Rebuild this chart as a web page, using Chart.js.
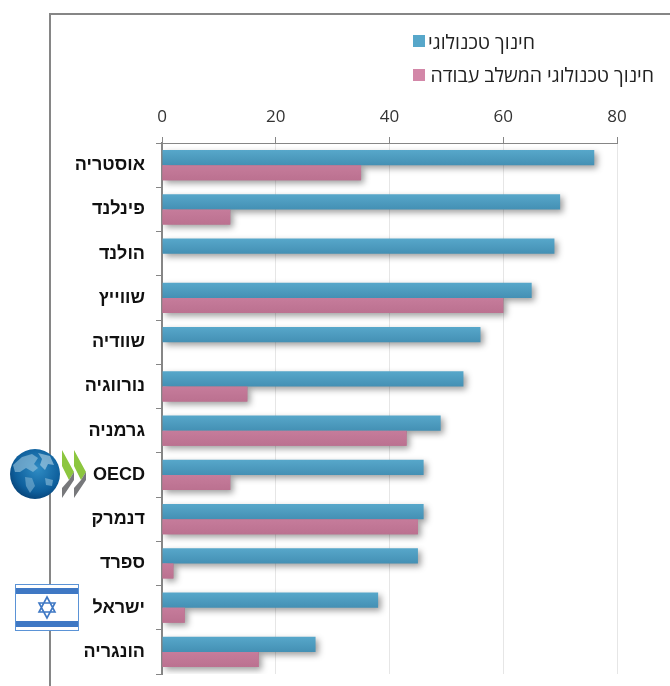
<!DOCTYPE html>
<html lang="he">
<head>
<meta charset="utf-8">
<title>חינוך טכנולוגי</title>
<script src="https://cdn.jsdelivr.net/npm/chart.js@4"></script>
<style>
  html, body { margin: 0; background: #fff; }
  #page { position: relative; width: 670px; height: 686px; overflow: hidden; }
  #frame { position: absolute; left: 49px; top: 13px; width: 640px; height: 700px; border: 2px solid #868686; box-sizing: border-box; }
  canvas { position: absolute; left: 0; top: 0; }
  .leg { position: absolute; font: 19.5px "Open Sans", sans-serif; color: #222; white-space: nowrap; direction: rtl; line-height: 24px; }
  .sw { position: absolute; width: 12px; height: 12px; }
  svg { position: absolute; }
</style>
</head>
<body>
<div id="page">
  <div id="frame"></div>
  <canvas id="chart" width="670" height="686"></canvas>
  <span class="sw" id="sw0" style="left:413px;top:35px"></span>
  <span class="leg" id="leg0" style="right:135px;top:30px"></span>
  <span class="sw" id="sw1" style="left:413px;top:69px"></span>
  <span class="leg" id="leg1" style="right:16px;top:63px"></span>

  <!-- OECD logo -->
  <svg style="left:8px;top:448px" width="82" height="52" viewBox="0 0 82 52">
    <defs>
      <radialGradient id="g" cx="0.55" cy="0.4" r="0.65">
        <stop offset="0" stop-color="#2f8cc4"/><stop offset="0.7" stop-color="#0e5f9c"/><stop offset="1" stop-color="#063f73"/>
      </radialGradient>
    </defs>
    <circle cx="27" cy="26" r="25" fill="url(#g)"/>
    <g opacity="0.6">
      <path d="M5 17 L14 9 L24 6 L30 10 L26 16 L30 20 L25 24 L18 20 L12 24 L7 24Z" fill="#9cc7df"/>
      <path d="M30 5 L42 8 L46 17 L40 16 L37 22 L32 17 L34 11Z" fill="#b5d6e8"/>
      <path d="M17 29 L24 30 L27 38 L22 45 L18 38Z" fill="#7fb3d3"/>
      <path d="M37 30 L45 32 L44 38 L38 37Z" fill="#8fbfdb"/>
    </g>
    <path d="M54 2 L66 24 L61 32 L54 18Z M66 2 L78 24 L73 32 L66 18Z" fill="#8cc63f"/>
    <path d="M61 32 L66 24 L66 32 L54 50 L54 40Z M73 32 L78 24 L78 32 L66 50 L66 40Z" fill="#77787b"/>
  </svg>

  <!-- Israel flag -->
  <svg style="left:15px;top:584px" width="65" height="48" viewBox="0 0 65 48">
    <rect x="0.5" y="0.5" width="63" height="46" fill="#fff" stroke="#5b93d6"/>
    <rect x="1" y="4" width="62" height="6" fill="#3f78c4"/>
    <rect x="1" y="37" width="62" height="6" fill="#3f78c4"/>
    <path d="M32 13 L40 28 L24 28Z M32 34 L24 19 L40 19Z" fill="none" stroke="#3f78c4" stroke-width="1.6"/>
  </svg>
</div>

<script>
const categories = ['אוסטריה', 'פינלנד', 'הולנד', 'שווייץ', 'שוודיה', 'נורווגיה', 'גרמניה', 'OECD', 'דנמרק', 'ספרד', 'ישראל', 'הונגריה'];
const techEd = [76, 70, 69, 65, 56, 53, 49, 46, 46, 45, 38, 27];
const workEd = [35, 12, null, 60, null, 15, 43, 12, 45, 2, 4, 17];
const seriesNames = ['חינוך טכנולוגי', 'חינוך טכנולוגי המשלב עבודה'];
const axisTicks = [0, 20, 40, 60, 80];

// bars get a soft top-to-bottom fade like the original
function fade(top, bottom, above) {
  return function (c) {
    const chart = c.chart;
    if (!chart.scales.y || c.dataIndex === undefined) return top;
    const mid = chart.scales.y.getPixelForValue(c.dataIndex);
    if (!isFinite(mid)) return top;
    const g = chart.ctx.createLinearGradient(0, above ? mid - 15 : mid, 0, above ? mid : mid + 15);
    g.addColorStop(0, top);
    g.addColorStop(1, bottom);
    return g;
  };
}

const barShadow = {
  id: 'barShadow',
  beforeDatasetDraw(chart) {
    const ctx = chart.ctx;
    ctx.save();
    ctx.shadowColor = 'rgba(0,0,0,0.38)';
    ctx.shadowBlur = 6;
    ctx.shadowOffsetX = 3;
    ctx.shadowOffsetY = 3;
  },
  afterDatasetDraw(chart) {
    chart.ctx.restore();
  },
  // teal is drawn last, so put the pink bars back on top of its shadow
  afterDatasetsDraw(chart) {
    chart.getDatasetMeta(1).data.forEach(el => el.draw(chart.ctx));
  }
};

new Chart(document.getElementById('chart'), {
  type: 'bar',
  plugins: [barShadow],
  data: {
    labels: categories,
    datasets: [
      { label: seriesNames[0], data: techEd, backgroundColor: fade('#57a7ca', '#4490b4', true) },
      { label: seriesNames[1], data: workEd, backgroundColor: fade('#c67c9b', '#bb7190', false) }
    ]
  },
  options: {
    indexAxis: 'y',
    responsive: false,
    animation: false,
    barPercentage: 1,
    categoryPercentage: 0.68,
    layout: { padding: { left: 0, top: 0, right: 53, bottom: 12 } },
    plugins: { legend: { display: false }, tooltip: { enabled: false } },
    scales: {
      x: {
        position: 'top',
        min: 0,
        max: 80,
        afterFit(s) { s.height = 143; s.paddingLeft = 0; s.paddingRight = 0; },
        afterBuildTicks(s) { s.ticks = axisTicks.map(v => ({ value: v })); },
        border: { color: '#868686', width: 1 },
        grid: { color: '#e6e6e6', tickColor: '#868686', tickLength: 6 },
        ticks: { padding: 10, maxRotation: 0, color: '#333', font: { family: 'Open Sans', size: 17 } }
      },
      y: {
        afterFit(s) { s.width = 162; s.paddingTop = 0; s.paddingBottom = 0; },
        border: { color: '#868686', width: 2 },
        grid: { drawOnChartArea: false, tickColor: '#868686', tickLength: 6 },
        ticks: { padding: 11, color: '#111', font: { family: 'Liberation Sans', size: 18, weight: 'bold' } }
      }
    }
  }
});

document.getElementById('leg0').textContent = seriesNames[0];
document.getElementById('leg1').textContent = seriesNames[1];
document.getElementById('sw0').style.background = '#57a7ca';
document.getElementById('sw1').style.background = '#d387a8';
</script>
</body>
</html>
